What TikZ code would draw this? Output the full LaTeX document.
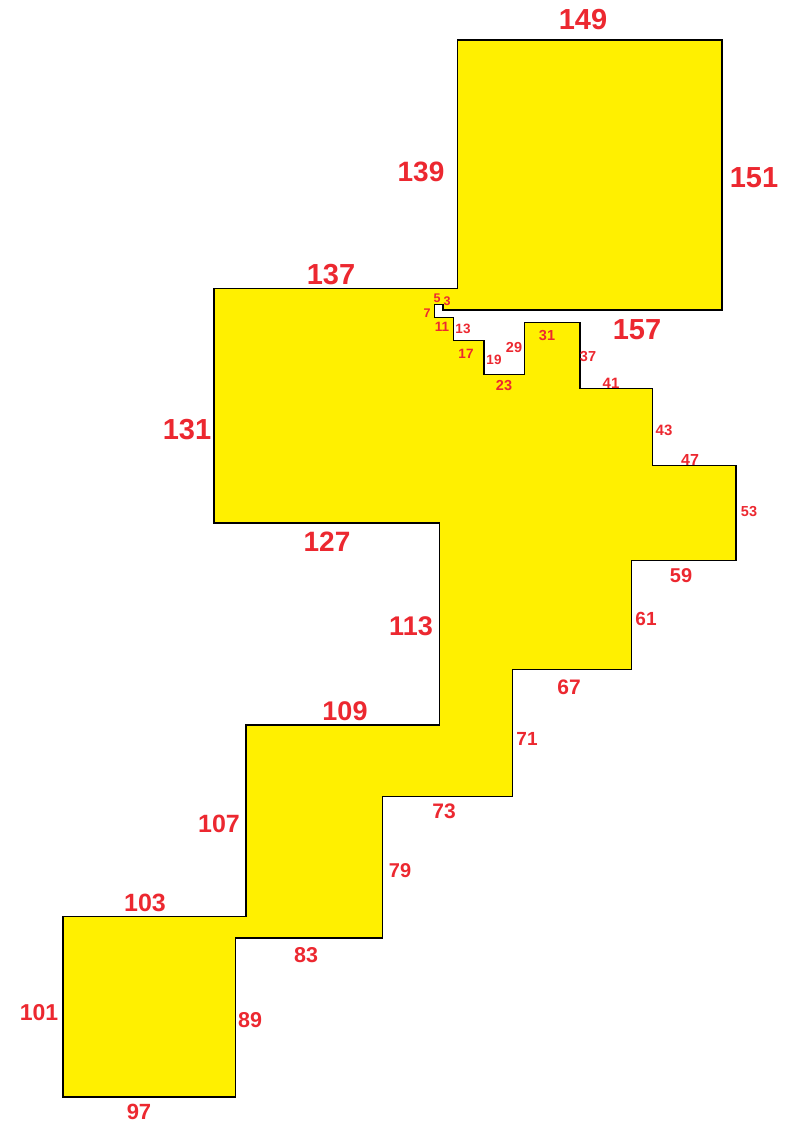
\documentclass[tikz,border=0pt]{standalone}
\usepackage{fontspec}
\setmainfont{Liberation Sans}
\definecolor{fillyel}{RGB}{255,240,0}
\definecolor{labred}{RGB}{236,40,48}
\newcommand{\lbl}[4]{\node[lab,font=\bfseries\fontsize{#3}{#3}\selectfont] (n#4) at (#1,#2) {#4};}
\begin{document}
\begin{tikzpicture}[x=1pt,y=-1pt,lab/.style={text=labred,inner sep=0pt,anchor=center}]
\useasboundingbox (0,0) rectangle (802,1126);
\begin{scope}[shift={(434.2,304.7)},x=1.776pt,y=1.7885pt]
\draw[fill=fillyel,draw=black,line width=1.4pt,line join=miter]
(0,0) -- (0,-7) -- (11,-7) -- (11,-20) -- (28,-20) -- (28,-39) -- (51,-39) -- (51,-10) -- (82,-10) -- (82,-47) -- (123,-47) -- (123,-90) -- (170,-90) -- (170,-143) -- (111,-143) -- (111,-204) -- (44,-204) -- (44,-275) -- (-29,-275) -- (-29,-354) -- (-112,-354) -- (-112,-443) -- (-209,-443) -- (-209,-342) -- (-106,-342) -- (-106,-235) -- (3,-235) -- (3,-122) -- (-124,-122) -- (-124,9) -- (13,9) -- (13,148) -- (162,148) -- (162,-3) -- (5,-3) -- (5,0) -- cycle;
\end{scope}
\lbl{583}{20}{29}{149}
\lbl{421}{172}{28}{139}
\lbl{754}{178}{29}{151}
\lbl{331}{275}{29}{137}
\lbl{637}{330}{29}{157}
\lbl{187}{430}{29}{131}
\lbl{327}{542}{28}{127}
\lbl{411}{626}{27}{113}
\lbl{345}{711}{27}{109}
\lbl{219}{824}{25}{107}
\lbl{145}{903}{25}{103}
\lbl{39}{1013}{23}{101}
\lbl{139}{1112}{22}{97}
\lbl{250}{1020}{21.5}{89}
\lbl{306}{955}{21.5}{83}
\lbl{400}{871}{20}{79}
\lbl{444}{811}{21}{73}
\lbl{527}{739}{19}{71}
\lbl{569}{687}{21}{67}
\lbl{646}{619}{19}{61}
\lbl{681}{576}{20}{59}
\lbl{749}{512}{14.5}{53}
\lbl{690}{460}{16}{47}
\lbl{664}{430}{15}{43}
\lbl{611}{383}{15}{41}
\lbl{588}{357}{14.5}{37}
\lbl{547}{336}{14.5}{31}
\lbl{514}{348}{14.5}{29}
\lbl{504}{386}{14.5}{23}
\lbl{494}{360}{13.5}{19}
\lbl{466}{354}{13.5}{17}
\lbl{463}{329}{13.5}{13}
\lbl{442}{327}{13.5}{11}
\lbl{427}{313}{12.5}{7}
\lbl{437}{298}{12.5}{5}
\lbl{447}{301}{12.5}{3}
\end{tikzpicture}
\end{document}
